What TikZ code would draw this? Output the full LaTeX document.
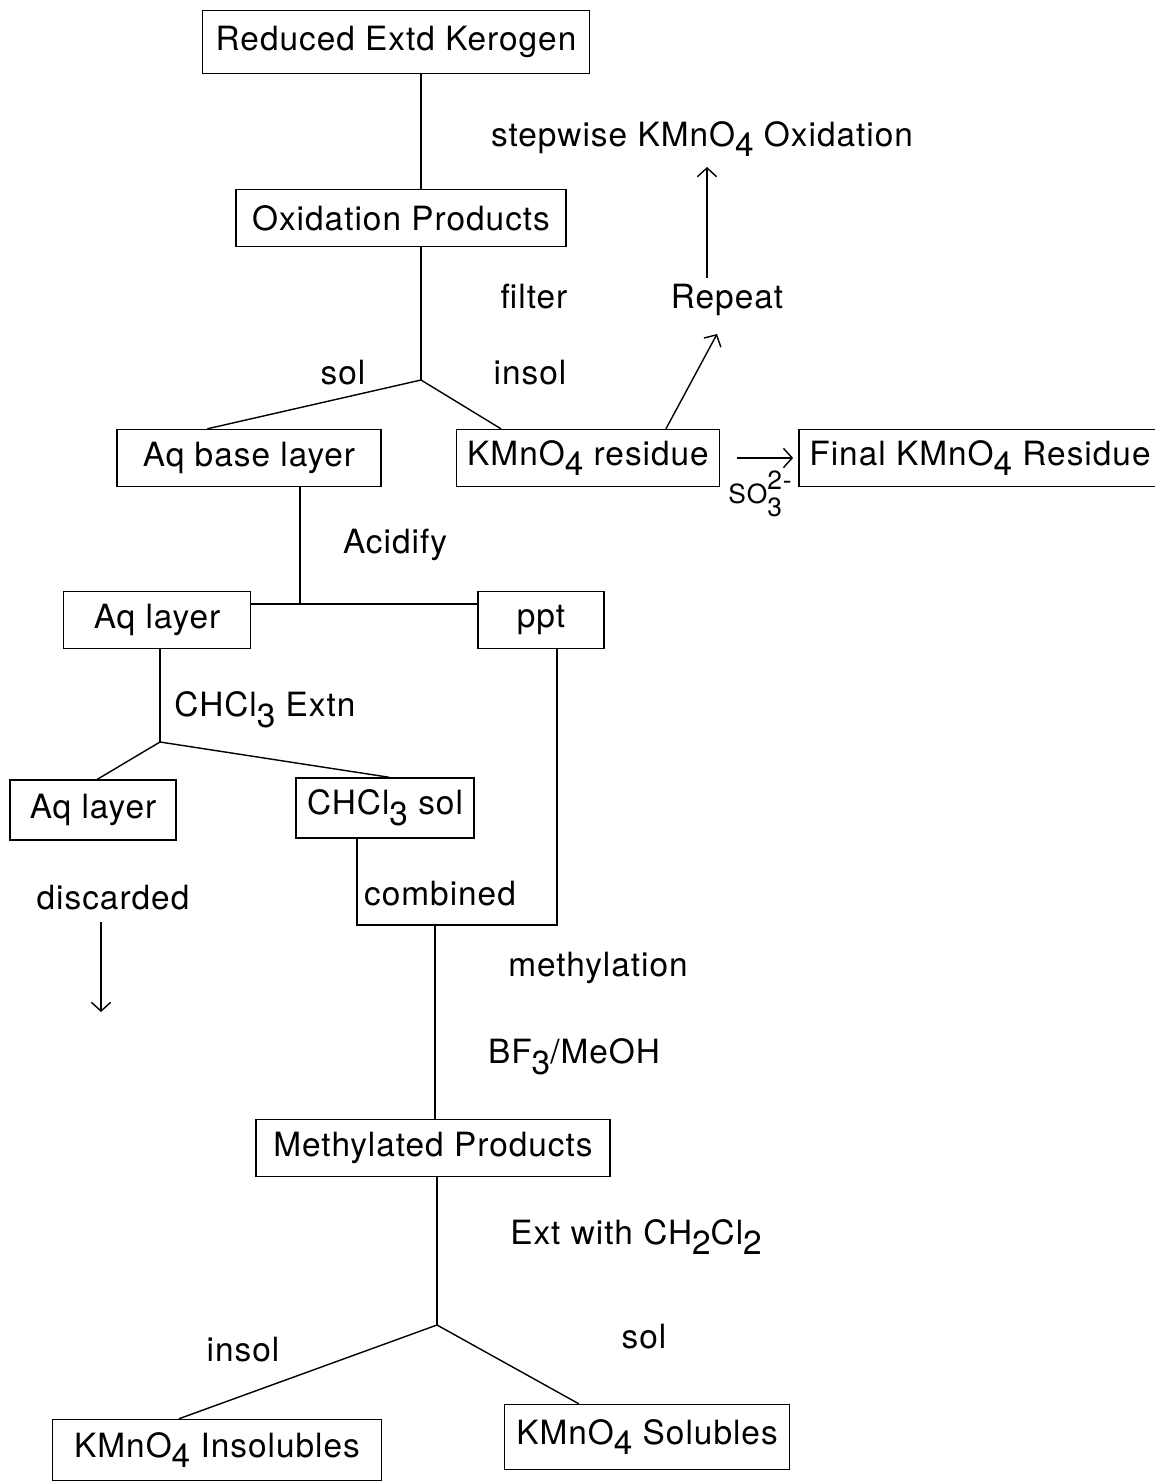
\documentclass[tikz,border=0pt]{standalone}
\usepackage{fontspec}
\setmainfont[LetterSpace=3]{TeX Gyre Heros}
\usetikzlibrary{calc,arrows.meta}

% lowered index at full size, and a stacked charge
\newcommand{\sub}[1]{\raisebox{-0.32em}{#1}}
\newcommand{\subsup}[2]{\rlap{\raisebox{-0.5em}{#1}}\raisebox{0.5em}{#2}}

\tikzset{
	box/.style={draw, line width=0.8pt, inner xsep=6pt, minimum height=1.14cm},
	link/.style={line width=0.8pt},
	>={Straight Barb[length=5pt,width=11pt]},
}

\begin{document}
\begin{tikzpicture}[x=0.02cm, y=-0.02cm, font=\fontsize{19}{22}\selectfont]
	\useasboundingbox (0,0) rectangle (1154,1481);

	% oxidation stage
	\node[box, minimum width=7.74cm, minimum height=1.26cm] (rek) at (396,42) {Reduced Extd Kerogen};
	\node[box, minimum width=6.6cm] (oxp) at (401,218) {Oxidation Products};
	\coordinate (j1) at (421,380);
	\node (flt) at (534,297) {filter};
	\node (sl1) at (343,373) {sol};
	\node (is1) at (530,373) {insol};
	\node[box, minimum width=5.28cm] (abl) at (249,458) {Aq base layer};
	\node[box, minimum width=5.12cm] (res) at (588,458) {KMnO\sub{4} residue};
	\node[box, minimum width=6.86cm] (fin) at (980,458) {Final KMnO\sub{4} Residue};
	\node[inner sep=1pt] (so3) at (760,494) {\fontsize{15}{18}\selectfont SO\subsup{3}{2-}};
	\node (rep) at (727,300) {Repeat};
	\node (stw) at (702,139) {stepwise KMnO\sub{4} Oxidation};

	\draw[link] (rek.south -| j1) -- (oxp.north -| j1);
	\draw[link] (oxp.south -| j1) -- (j1);
	\draw[link] (j1) -- ([shift={(91,0)}]abl.north west);
	\draw[link] (j1) -- ([shift={(45,0)}]res.north west);
	\draw[link,->] ([shift={(210,0)}]res.north west) -- ([shift={(-10,12)}]rep.south);
	\draw[link,->] ([shift={(-20,0)}]rep.north) -- ([shift={(5,4)}]stw.south);
	\draw[link,->] ([shift={(17,0)}]res.east) -- ([shift={(-5,0)}]fin.west);

	% acid work-up
	\node (acd) at (395,545) {Acidify};
	\coordinate (j2) at (300,604);
	\node[box, minimum width=3.74cm] (acl) at (157,620) {Aq layer};
	\node[box, minimum width=2.52cm] (ppt) at (541,620) {ppt};
	\draw[link] (abl.south -| j2) -- (j2);
	\draw[link] (acl.east |- j2) -- (ppt.west |- j2);

	\node (ext) at (265,710) {CHCl\sub{3} Extn};
	\coordinate (j3) at (160,742);
	\node[box, minimum width=3.32cm, minimum height=1.2cm] (aql) at (93,810) {Aq layer};
	\node[box, minimum width=3.56cm, minimum height=1.2cm] (chs) at (385,808) {CHCl\sub{3} sol};
	\draw[link] (acl.south -| j3) -- (j3);
	\draw[link] (j3) -- ([shift={(88,0)}]aql.north west);
	\draw[link] (j3) -- ([shift={(94,0)}]chs.north west);

	\node (dis) at (113,898) {discarded};
	\coordinate (dtop) at (101,922);
	\coordinate (dend) at (101,1012);
	\draw[link,->] (dtop) -- (dend);

	% combined solids and extract
	\node (cmt) at (440,894) {combined};
	\coordinate (cml) at (357,925);
	\coordinate (cmr) at (557,925);
	\coordinate (cmb) at (435,925);
	\draw[link] (chs.south -| cml) -- (cml) -- (cmr) -- (ppt.south -| cmr);

	% methylation
	\node (mth) at (598,968) {methylation};
	\node (bf3) at (574,1057) {BF\sub{3}/MeOH};
	\node[box, minimum width=7.08cm] (mep) at (433,1148) {Methylated Products};
	\draw[link] (cmb) -- (mep.north -| cmb);

	\node (ecl) at (636,1237) {Ext with CH\sub{2}Cl\sub{2}};
	\coordinate (j4) at (437,1325);
	\node (is2) at (243,1350) {insol};
	\node (sl2) at (644,1337) {sol};
	\node[box, minimum width=6.58cm, minimum height=1.22cm] (ins) at (217,1450) {KMnO\sub{4} Insolubles};
	\node[box, minimum width=5.7cm, minimum height=1.3cm] (sob) at (647,1437) {KMnO\sub{4} Solubles};
	\draw[link] (mep.south -| j4) -- (j4);
	\draw[link] (j4) -- ([shift={(127,0)}]ins.north west);
	\draw[link] (j4) -- ([shift={(75,0)}]sob.north west);
\end{tikzpicture}
\end{document}
